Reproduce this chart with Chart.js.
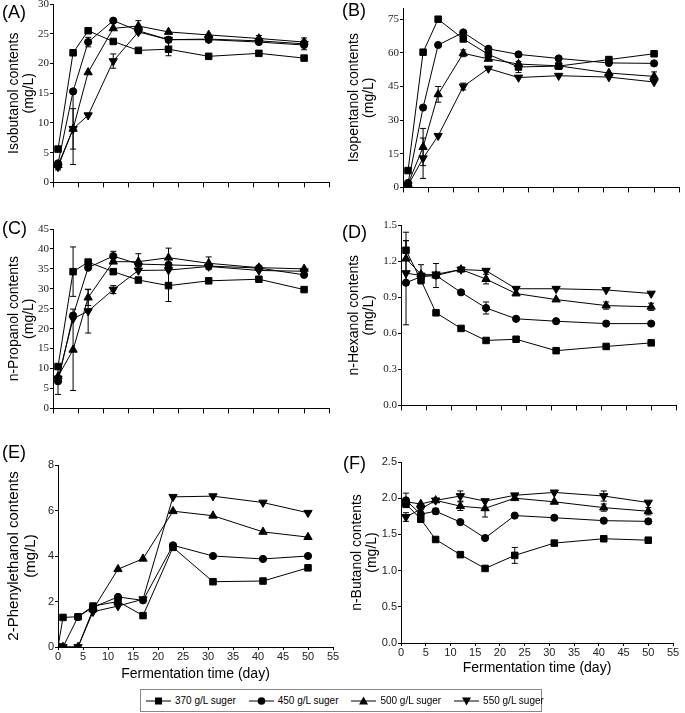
<!DOCTYPE html>
<html>
<head>
<meta charset="utf-8">
<script src="https://cdn.jsdelivr.net/npm/chart.js@4.4.1/dist/chart.umd.min.js"></script>
<style>
body { margin: 0; background: #fff; width: 685px; height: 713px; position: relative; overflow: hidden; font-family: "Liberation Sans", Arial, sans-serif; }
canvas { position: absolute; }
.letra { position: absolute; font-size: 18px; color: #000; line-height: 1; }
#leyenda { position: absolute; left: 140px; top: 689px; width: 400px; height: 21px; border: 1px solid #888; }
.item { position: absolute; top: 0; height: 21px; display: flex; align-items: center; font-size: 10px; color: #000; white-space: nowrap; }
.item svg { margin-right: 4px; }
</style>
</head>
<body>
<canvas id="gA" width="335" height="194" style="left:0;top:-4px"></canvas>
<canvas id="gB" width="345" height="195" style="left:340px;top:0"></canvas>
<canvas id="gC" width="335" height="195" style="left:0;top:221px"></canvas>
<canvas id="gD" width="342" height="196" style="left:340px;top:217px"></canvas>
<canvas id="gE" width="341" height="226" style="left:0;top:457px"></canvas>
<canvas id="gF" width="341" height="223" style="left:340px;top:454px"></canvas>

<div class="letra" style="left:2px;top:3px">(A)</div>
<div class="letra" style="left:342px;top:1px">(B)</div>
<div class="letra" style="left:2px;top:219px">(C)</div>
<div class="letra" style="left:342px;top:223px">(D)</div>
<div class="letra" style="left:2px;top:443px">(E)</div>
<div class="letra" style="left:343px;top:454px">(F)</div>

<div id="leyenda"></div>

<script>
// Días de muestreo
const diasAD = [1, 4, 7, 12, 17, 23, 31, 41, 50];
const diasE = [0, 1, 4, 7, 12, 17, 23, 31, 41, 50];
const diasF = [1, 4, 7, 12, 17, 23, 31, 41, 50];
const azucares = ['370 g/L suger', '450 g/L suger', '500 g/L suger', '550 g/L suger'];

// marcas de los ejes
const ticksDias = [0, 5, 10, 15, 20, 25, 30, 35, 40, 45, 50, 55];
const ticksA = [0, 5, 10, 15, 20, 25, 30];
const ticksB = [0, 15, 30, 45, 60, 75];
const ticksC = [0, 5, 10, 15, 20, 25, 30, 35, 40, 45];
const ticksD = [0, 0.3, 0.6, 0.9, 1.2, 1.5];
const ticksE = [0, 2, 4, 6, 8];
const ticksF = [0, 0.5, 1.0, 1.5, 2.0, 2.5];

// (A) Isobutanol, filas: 370, 450, 500, 550 g/L
const isobutanol = [
    [5.6, 21.8, 25.5, 23.7, 22.2, 22.4, 21.2, 21.7, 20.9],
    [3.2, 15.3, 23.6, 27.2, 25.5, 24.0, 24.0, 23.6, 23.1],
    [2.9, 9.0, 18.5, 25.9, 26.3, 25.3, 24.8, 24.2, 23.6],
    [2.6, 9.0, 11.3, 20.4, 25.3, 24.0, 24.1, 23.8, 23.3]
];
const errIsobutanol = [
    [0.4, 0, 0, 0, 0, 1.1, 0, 0, 0],
    [0, 0, 0.8, 0, 0, 0, 0, 0, 0.8],
    [0.6, 6.0, 0, 0, 0.9, 0, 0, 0.5, 0.7],
    [0.5, 3.4, 0, 1.2, 0, 0, 0, 0.5, 0]
];

// (B) Isopentanol
const isopentanol = [
    [7.5, 60.3, 75.0, 66.2, 59.3, 53.7, 54.1, 57.0, 59.6],
    [2.0, 35.6, 63.5, 69.1, 61.8, 59.3, 57.5, 55.5, 55.3],
    [1.5, 18.0, 41.5, 59.8, 57.3, 55.0, 54.2, 51.0, 49.5],
    [1.0, 13.0, 23.0, 45.0, 53.0, 49.0, 49.8, 49.2, 47.0]
];
const errIsopentanol = [
    [0, 0, 0, 0, 0, 2.5, 1.5, 0, 1.0],
    [0, 0, 0, 0, 0, 0, 0, 1.0, 0],
    [0, 8.3, 3.5, 1.5, 0, 0, 0, 0, 2.0],
    [0, 9.0, 0, 1.5, 0, 0, 0, 0, 0]
];

// (C) n-Propanol
const propanol = [
    [10.5, 34.3, 36.7, 34.3, 32.2, 30.8, 32.0, 32.4, 29.8],
    [6.8, 23.3, 35.3, 38.2, 36.2, 36.0, 35.7, 35.2, 33.5],
    [8.0, 14.7, 27.8, 36.8, 36.8, 37.8, 36.4, 35.3, 35.0],
    [7.5, 22.5, 24.4, 29.8, 34.6, 34.7, 35.6, 34.6, 34.4]
];
const errPropanol = [
    [0, 6.2, 0, 0, 0, 4.0, 0, 0, 0],
    [3.3, 0, 0, 1.2, 0, 0, 0, 0, 0],
    [0, 10.2, 2.0, 0, 2.0, 2.4, 1.6, 0, 0],
    [0, 0, 5.5, 1.0, 0, 0, 0, 0, 0]
];

// (D) n-Hexanol
const hexanol = [
    [1.29, 1.04, 0.77, 0.64, 0.54, 0.55, 0.455, 0.49, 0.52],
    [1.02, 1.07, 1.08, 0.94, 0.81, 0.72, 0.70, 0.68, 0.68],
    [1.22, 1.09, 1.08, 1.13, 1.05, 0.93, 0.88, 0.83, 0.82],
    [1.10, 1.08, 1.09, 1.13, 1.12, 0.97, 0.97, 0.96, 0.93]
];
const errHexanol = [
    [0.08, 0, 0, 0, 0, 0, 0, 0, 0],
    [0.35, 0, 0.10, 0, 0.05, 0, 0, 0, 0],
    [0.22, 0.08, 0, 0, 0.04, 0, 0, 0.03, 0.03],
    [0, 0, 0, 0.02, 0, 0, 0, 0, 0]
];

// (E) 2-Feniletanol
const feniletanol = [
    [0, 1.30, 1.33, 1.80, 2.00, 1.38, 4.38, 2.87, 2.90, 3.48],
    [0, 0, 1.32, 1.75, 2.20, 2.05, 4.47, 4.00, 3.87, 4.00],
    [0, 0, 0, 1.65, 3.42, 3.88, 5.97, 5.77, 5.06, 4.83],
    [0, 0, 0, 1.55, 1.80, 2.10, 6.60, 6.63, 6.35, 5.90]
];

// (F) n-Butanol
const butanol = [
    [1.92, 1.71, 1.43, 1.22, 1.03, 1.21, 1.38, 1.44, 1.42],
    [1.97, 1.78, 1.82, 1.67, 1.45, 1.76, 1.73, 1.69, 1.68],
    [1.95, 1.92, 1.97, 1.89, 1.86, 2.00, 1.95, 1.87, 1.82],
    [1.74, 1.85, 1.97, 2.03, 1.96, 2.04, 2.08, 2.03, 1.94]
];
const errButanol = [
    [0, 0, 0, 0, 0, 0.11, 0, 0, 0],
    [0.10, 0, 0.04, 0, 0, 0, 0, 0, 0.03],
    [0, 0, 0, 0.06, 0.12, 0, 0, 0.05, 0.05],
    [0.06, 0, 0, 0.07, 0, 0, 0, 0.07, 0]
];

const marcas = [
    { pointStyle: 'rect', pointRadius: 4.6, rotation: 0 },
    { pointStyle: 'circle', pointRadius: 3.6, rotation: 0 },
    { pointStyle: 'triangle', pointRadius: 4.8, rotation: 0 },
    { pointStyle: 'triangle', pointRadius: 4.8, rotation: 180 }
];

// barras de error dibujadas con la escala Y del gráfico
const barrasError = {
    id: 'barrasError',
    beforeDatasetsDraw(chart) {
        const ctx = chart.ctx;
        const ejeY = chart.scales.y;
        ctx.save();
        ctx.strokeStyle = '#000';
        ctx.lineWidth = 1;
        chart.data.datasets.forEach((ds, i) => {
            if (!ds.errores) return;
            const meta = chart.getDatasetMeta(i);
            meta.data.forEach((pt, j) => {
                const e = ds.errores[j];
                if (!e) return;
                const v = ds.data[j].y;
                const y1 = ejeY.getPixelForValue(v + e);
                const y2 = ejeY.getPixelForValue(Math.max(v - e, 0));
                ctx.beginPath();
                ctx.moveTo(pt.x, y1); ctx.lineTo(pt.x, y2);
                ctx.moveTo(pt.x - 3, y1); ctx.lineTo(pt.x + 3, y1);
                ctx.moveTo(pt.x - 3, y2); ctx.lineTo(pt.x + 3, y2);
                ctx.stroke();
            });
        });
        ctx.restore();
    }
};

const serif = "'Liberation Serif', 'Times New Roman', serif";
const sans = "'Liberation Sans', Arial, sans-serif";

const crearPanel = (id, dias, series, errores, cfg) => {
    const datasets = series.map((valores, i) => ({
        label: azucares[i],
        data: valores.map((v, j) => ({ x: dias[j], y: v })),
        errores: errores ? errores[i] : null,
        borderColor: '#000',
        borderWidth: 1,
        backgroundColor: '#000',
        pointBackgroundColor: '#000',
        pointBorderColor: '#000',
        pointBorderWidth: 1,
        pointStyle: marcas[i].pointStyle,
        pointRadius: marcas[i].pointRadius,
        pointRotation: marcas[i].rotation,
        tension: 0,
        fill: false
    }));

    const fuenteTicks = cfg.ejeX ? sans : serif;
    const ticksY = cfg.ticks;

    new Chart(document.getElementById(id), {
        type: 'line',
        data: { datasets },
        plugins: [barrasError],
        options: {
            responsive: false,
            animation: false,
            events: [],
            layout: { padding: { top: 8, right: cfg.ejeX ? 8 : 3, bottom: 0, left: 0 } },
            plugins: { legend: { display: false }, tooltip: { enabled: false } },
            scales: {
                x: {
                    type: 'linear',
                    min: 0,
                    max: 55,
                    afterBuildTicks: (s) => { s.ticks = ticksDias.map(v => ({ value: v })); },
                    ticks: {
                        display: !!cfg.ejeX,
                        autoSkip: false,
                        maxRotation: 0,
                        padding: 1,
                        color: '#222',
                        font: { family: sans, size: 11, lineHeight: 1 }
                    },
                    grid: { drawOnChartArea: false, drawTicks: true, tickLength: cfg.ejeX ? 3 : 5, tickColor: '#000', color: '#000' },
                    border: { color: '#000', width: 1 },
                    title: cfg.ejeX
                        ? { display: true, text: 'Fermentation time (day)', color: '#000', font: { family: sans, size: 14 }, padding: { top: 0, bottom: 0 } }
                        : { display: false },
                    afterFit: (s) => { s.height = cfg.ejeX ? cfg.altoEjeX : 6; }
                },
                y: {
                    min: 0,
                    max: cfg.max,
                    afterBuildTicks: (s) => { s.ticks = ticksY.map(v => ({ value: v })); },
                    ticks: {
                        padding: 1,
                        color: '#222',
                        font: { family: fuenteTicks, size: 11 },
                        callback: (v) => cfg.decimales ? v.toFixed(cfg.decimales) : v
                    },
                    grid: { drawOnChartArea: false, drawTicks: true, tickLength: 3, tickColor: '#000', color: '#000' },
                    border: { color: '#000', width: 1 },
                    title: {
                        display: true,
                        text: cfg.titulo,
                        color: '#000',
                        font: { family: sans, size: cfg.tamTitulo || 14, lineHeight: 1.1 },
                        padding: { top: cfg.padTitulo || 6, bottom: 0 }
                    },
                    afterFit: (s) => { s.width = cfg.anchoEje; }
                }
            }
        }
    });
};

crearPanel('gA', diasAD, isobutanol, errIsobutanol,
    { max: 30, ticks: ticksA, titulo: ['Isobutanol contents', '(mg/L)'], anchoEje: 53 });
crearPanel('gB', diasAD, isopentanol, errIsopentanol,
    { max: 80, ticks: ticksB, titulo: ['Isopentanol contents', '(mg/L)'], anchoEje: 63 });
crearPanel('gC', diasAD, propanol, errPropanol,
    { max: 45, ticks: ticksC, titulo: ['n-Propanol contents', '(mg/L)'], anchoEje: 53 });
crearPanel('gD', diasAD, hexanol, errHexanol,
    { max: 1.5, ticks: ticksD, decimales: 1, titulo: ['n-Hexanol contents', '(mg/L)'], anchoEje: 61 });
crearPanel('gE', diasE, feniletanol, null,
    { max: 8, ticks: ticksE, ejeX: true, altoEjeX: 36, titulo: ['2-Phenylethanol contents', '(mg/L)'], anchoEje: 58, tamTitulo: 15 });
crearPanel('gF', diasF, butanol, errButanol,
    { max: 2.5, ticks: ticksF, decimales: 1, ejeX: true, altoEjeX: 34, titulo: ['n-Butanol contents', '(mg/L)'], anchoEje: 61, padTitulo: 9 });

// Leyenda común
const simbolos = [
    '<rect x="9" y="1.5" width="7" height="7" fill="#000"/>',
    '<circle cx="12.5" cy="5" r="3.8" fill="#000"/>',
    '<polygon points="12.5,0.5 17,8.5 8,8.5" fill="#000"/>',
    '<polygon points="8,1.5 17,1.5 12.5,9.5" fill="#000"/>'
];
const leyenda = document.getElementById('leyenda');
azucares.forEach((texto, i) => {
    const item = document.createElement('div');
    item.className = 'item';
    item.style.left = (5 + i * 102.7) + 'px';
    item.innerHTML = '<svg width="25" height="10"><line x1="0" y1="5" x2="25" y2="5" stroke="#000" stroke-width="1"/>' +
        simbolos[i] + '</svg><span>' + texto + '</span>';
    leyenda.appendChild(item);
});
</script>
</body>
</html>
